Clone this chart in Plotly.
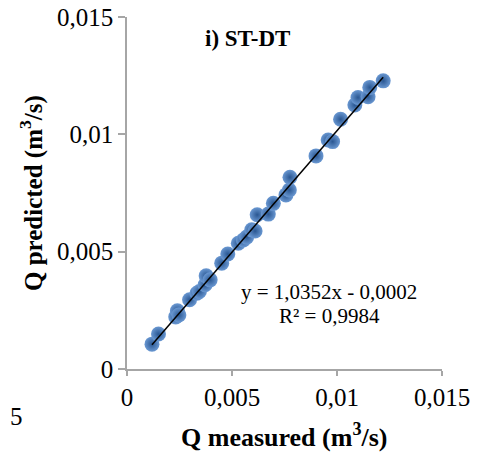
import plotly.graph_objects as go

# Data
q_measured = [0.00119, 0.0015, 0.00232, 0.00240, 0.00247, 0.00298, 0.00333, 0.00345,
              0.00372, 0.00377, 0.00396, 0.00451, 0.0048, 0.0053, 0.00554, 0.0057,
              0.00594, 0.0061, 0.0062, 0.00673, 0.00697, 0.00757, 0.00773, 0.00776,
              0.009, 0.00958, 0.00979, 0.01017, 0.01085, 0.011, 0.01148, 0.01156, 0.0122]
q_predicted = [0.00106, 0.00149, 0.00222, 0.00248, 0.00230, 0.00295, 0.00323, 0.00330,
               0.00359, 0.00397, 0.0038, 0.00451, 0.0049, 0.00536, 0.0055, 0.00562,
               0.00593, 0.00588, 0.00657, 0.0066, 0.00706, 0.00742, 0.00763, 0.00817,
               0.00908, 0.00976, 0.00969, 0.01064, 0.01125, 0.01157, 0.0116, 0.012, 0.01228]
slope = 1.0352
intercept = -0.0002
fit_x = [min(q_measured), max(q_measured)]
fit_y = [slope * v + intercept for v in fit_x]

tick_vals = [0, 0.005, 0.01, 0.015]
tick_text = ["0", "0,005", "0,01", "0,015"]

FONT = "Liberation Serif, Times New Roman, serif"

fig = go.Figure()
fig.add_trace(go.Scatter(
    x=q_measured, y=q_predicted, mode="markers",
    marker=dict(size=15, color="#6a98d2",
                gradient=dict(type="radial", color="#2a5792"),
                line=dict(width=0)),
    showlegend=False))
fig.add_trace(go.Scatter(
    x=fit_x, y=fit_y, mode="lines",
    line=dict(color="black", width=1.5), showlegend=False))

axis_common = dict(
    range=[0, 0.015], tickvals=tick_vals, ticktext=tick_text,
    showgrid=False, zeroline=False, showline=True, automargin=False,
    ticklabeloverflow="allow",
    linecolor="#a6a6a6", linewidth=1.5,
    ticks="outside", tickcolor="#a6a6a6", tickwidth=1.5,
    tickfont=dict(family=FONT, size=25, color="black"),
)

# page body has an 8px margin: figure origin is at screen (8, 8)
OFF = 8
W, H = 489 - OFF, 458 - OFF
# plot area on screen: left 127, right 442, top 17, bottom 369
L, T = 127 - OFF, 17 - OFF
pw, ph = 315, 352
R, B = W - L - pw, H - T - ph

def px(xs):
    return (xs - OFF - L) / pw

def py(ys):
    return (T + ph - (ys - OFF)) / ph

fig.update_layout(
    width=W, height=H,
    margin=dict(l=L, r=R, t=T, b=B),
    paper_bgcolor="white", plot_bgcolor="white",
    xaxis=dict(**axis_common, ticklen=5),
    yaxis=dict(**axis_common, ticklen=7),
    annotations=[
        dict(x=px(284), y=py(435), xref="paper", yref="paper",
             text="<b>Q measured (m<sup>3</sup>/s)</b>", showarrow=False,
             xanchor="center", yanchor="middle",
             font=dict(family=FONT, size=26, color="black")),
        dict(x=px(31), y=py(193), xref="paper", yref="paper",
             text="<b>Q predicted (m<sup>3</sup>/s)</b>", showarrow=False,
             textangle=-90, xanchor="center", yanchor="middle",
             font=dict(family=FONT, size=25, color="black")),
        dict(x=px(247), y=py(38), xref="paper", yref="paper", text="<b>i) ST-DT</b>",
             showarrow=False, xanchor="center", yanchor="middle",
             font=dict(family=FONT, size=23, color="black")),
        dict(x=px(329), y=py(292), xref="paper", yref="paper", text="y = 1,0352x - 0,0002",
             showarrow=False, xanchor="center", yanchor="middle",
             font=dict(family=FONT, size=21, color="black")),
        dict(x=px(329), y=py(316), xref="paper", yref="paper", text="R² = 0,9984",
             showarrow=False, xanchor="center", yanchor="middle",
             font=dict(family=FONT, size=21, color="black")),
        dict(x=px(OFF), y=py(416), xref="paper", yref="paper", text="5",
             xanchor="left", yanchor="middle", showarrow=False,
             font=dict(family=FONT, size=25, color="black")),
    ],
)

fig.write_html("out.html")
